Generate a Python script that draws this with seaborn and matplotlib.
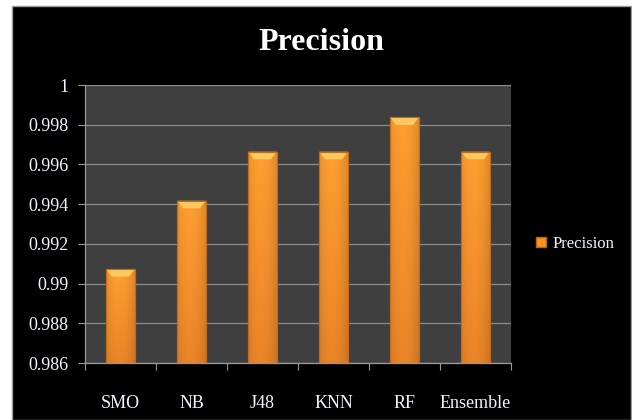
import numpy as np
import pandas as pd
import matplotlib
matplotlib.use("Agg")
import matplotlib.pyplot as plt
from matplotlib.patches import Rectangle, Polygon
from matplotlib.ticker import FixedLocator, FuncFormatter
from matplotlib.lines import Line2D
import seaborn as sns

# Precision per classifier
classifiers = ["SMO", "NB", "J48", "KNN", "RF", "Ensemble"]
precision = [0.99073, 0.99417, 0.99664, 0.99664, 0.99837, 0.99664]
y_ticks = [0.986, 0.988, 0.990, 0.992, 0.994, 0.996, 0.998, 1.0]

df = pd.DataFrame({"Classifier": classifiers, "Precision": precision})

sns.set_theme(style="dark")
plt.rcParams["font.family"] = ["Liberation Serif", "DejaVu Serif"]

fig = plt.figure(figsize=(6.32, 4.20), dpi=100, facecolor="white")
# black chart area with thin grey frame
fig.patches.append(Rectangle((12 / 632, 0), 1 - 12 / 632 - 0.001, (420 - 6) / 420,
                             transform=fig.transFigure, facecolor="black",
                             edgecolor="#9a9a9a", linewidth=1.0, zorder=-5))

ax = fig.add_axes([85 / 632, 57 / 420, (511 - 85) / 632, (363 - 85) / 420])
ax.set_facecolor("#3f3f3f")

sns.barplot(data=df, x="Classifier", y="Precision", ax=ax, color="#F7941D",
            width=0.40, edgecolor="#B8651C", linewidth=0.8, zorder=3)

ymin, ymax = 0.986, 1.0
ax.set_ylim(ymin, ymax)
ax.set_xlim(-0.5, len(classifiers) - 0.5)

# shaded fill for each bar: bright centre, slightly darker sides and bottom
hx = np.linspace(0, 1, 64)
prof = 1 - 0.42 * np.abs(hx - 0.45) ** 2
for p in list(ax.patches):
    x0, w = p.get_x(), p.get_width()
    top = p.get_y() + p.get_height()
    vy = np.linspace(0, 1, 64)[:, None]  # 0 bottom -> 1 top
    base_top = np.array([1.0, 0.62, 0.19])
    base_bot = np.array([0.92, 0.52, 0.16])
    col = base_bot[None, None, :] + (base_top - base_bot)[None, None, :] * vy[..., None]
    col = col * prof[None, :, None]
    col = np.clip(col, 0, 1)
    img = ax.imshow(col, extent=(x0, x0 + w, ymin, top), origin="lower",
                    aspect="auto", zorder=3.5, interpolation="bilinear")
    img.set_clip_path(p)
    # light bevel on top of the bar
    bh = 0.00038
    inset = w * 0.2
    ax.add_patch(Polygon([(x0, top), (x0 + w, top), (x0 + w - inset, top - bh),
                          (x0 + inset, top - bh)], closed=True,
                         facecolor="#FFC85E", edgecolor="none", zorder=3.8))
    ax.add_patch(Rectangle((x0, ymin), w, top - ymin, facecolor="none",
                           edgecolor="#C06A1E", linewidth=0.8, zorder=4))

ax.set_xlim(-0.5, len(classifiers) - 0.5)
ax.set_ylim(ymin, ymax)
ax.yaxis.set_major_locator(FixedLocator(y_ticks))
ax.yaxis.set_major_formatter(FuncFormatter(
    lambda v, _: f"{v:.3f}".rstrip("0").rstrip(".")))
ax.grid(axis="y", color="#8c8c8c", linewidth=0.9, zorder=1)
ax.grid(axis="x", visible=False)
ax.set_axisbelow(True)

# minor ticks on category boundaries
ax.set_xticks(np.arange(-0.5, len(classifiers)), minor=True)
ax.tick_params(axis="x", which="minor", length=5, width=0.8, color="#9a9a9a",
               bottom=True)
ax.tick_params(axis="x", which="major", length=0, pad=23, labelsize=13,
               labelcolor="#F2F5FF")
ax.tick_params(axis="y", length=5, width=0.8, color="#9a9a9a", pad=7,
               labelsize=13, labelcolor="#F2F5FF", left=True)

for s in ["top", "right"]:
    ax.spines[s].set_visible(False)
for s in ["left", "bottom"]:
    ax.spines[s].set_visible(True)
    ax.spines[s].set_color("#9a9a9a")
    ax.spines[s].set_linewidth(0.9)
ax.spines["bottom"].set_zorder(5)

ax.set_xlabel("")
ax.set_ylabel("")

fig.text(321 / 632, 1 - 42 / 420, "Precision", ha="center", va="center",
         fontsize=23, fontweight="bold", color="white")

handle = Line2D([], [], marker="s", linestyle="none", markersize=7,
                markerfacecolor="#F7941D", markeredgecolor="#B8651C")
leg = fig.legend([handle], ["Precision"], loc="center left",
                 bbox_to_anchor=(518 / 632, 1 - 244 / 420), frameon=False,
                 fontsize=12, handletextpad=0.2, handlelength=1.0)
for t in leg.get_texts():
    t.set_color("#F2F5FF")

fig.savefig("out.png", dpi=100, facecolor=fig.get_facecolor())
